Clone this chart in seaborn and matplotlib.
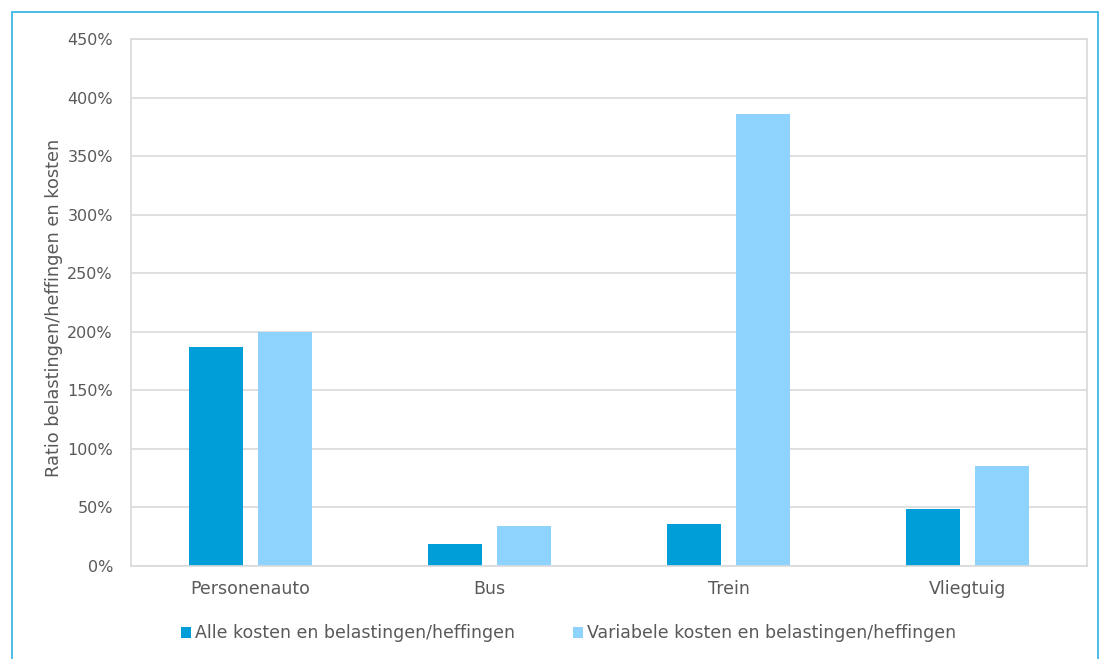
import matplotlib
matplotlib.use("Agg")
import matplotlib.pyplot as plt
import seaborn as sns
import pandas as pd
from matplotlib.patches import Rectangle
from matplotlib.ticker import FuncFormatter, MultipleLocator

categories = ["Personenauto", "Bus", "Trein", "Vliegtuig"]
series_names = ["Alle kosten en belastingen/heffingen",
                "Variabele kosten en belastingen/heffingen"]
alle_kosten = [187, 18.5, 36, 49]
variabele_kosten = [200, 34, 386, 85]
ylabel = "Ratio belastingen/heffingen en kosten"

colors = ["#009ED8", "#8ED3FE"]
text_color = "#595959"

df = pd.DataFrame({
    "categorie": categories * 2,
    "reeks": [series_names[0]] * 4 + [series_names[1]] * 4,
    "waarde": alle_kosten + variabele_kosten,
})

sns.set_theme(style="white")
plt.rcParams["font.family"] = ["DejaVu Sans"]

fig = plt.figure(figsize=(11.01, 6.59), dpi=100)
ax = fig.add_axes([131 / 1101, 1 - 566 / 659, (1087 - 131) / 1101, (566 - 39) / 659])

sns.barplot(data=df, x="categorie", y="waarde", hue="reeks", order=categories,
            hue_order=series_names, palette=colors, width=0.578, gap=0.217,
            saturation=1, ax=ax, linewidth=0)

ax.set_ylim(0, 450)
ax.yaxis.set_major_locator(MultipleLocator(50))
ax.yaxis.set_major_formatter(FuncFormatter(lambda v, p: f"{int(v)}%"))
ax.grid(axis="y", color="#d9d9d9", linewidth=1.2)
ax.set_axisbelow(True)
for s in ax.spines.values():
    s.set_visible(True)
    s.set_color("#d9d9d9")
    s.set_linewidth(1.2)
ax.tick_params(axis="both", length=0, colors=text_color)
ax.tick_params(axis="x", pad=10, labelsize=12.5)
ax.tick_params(axis="y", pad=13, labelsize=11.5)
ax.set_xlabel("")
ax.set_ylabel(ylabel, fontsize=12.8, color=text_color)
ax.yaxis.set_label_coords(-0.071, 0.49)

handles, labels = ax.get_legend_handles_labels()
ax.legend(handles, labels, loc="center", bbox_to_anchor=(0.458, -0.128),
          ncol=2, frameon=False, fontsize=12.5, labelcolor=text_color,
          handlelength=0.55, handleheight=0.55, handletextpad=0.25,
          columnspacing=3.35)

# outer frame around the chart
fig.patches.append(Rectangle((12 / 1101, -0.05), (1098 - 12) / 1101, 1.05 - 12 / 659,
                             transform=fig.transFigure, fill=False,
                             edgecolor="#3DB7E4", linewidth=1.3))

fig.savefig("out.png", dpi=100)
